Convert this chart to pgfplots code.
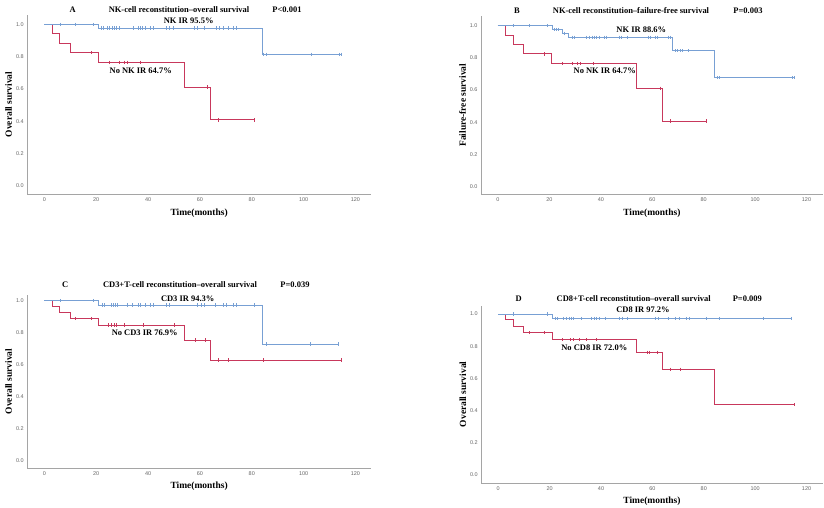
\documentclass[border=0pt]{standalone}
\usepackage{fontspec}
\setmainfont{Liberation Serif}
\newfontfamily\ticksans{Liberation Sans}
\usepackage{pgfplots}
\pgfplotsset{compat=1.18}
\definecolor{kmblue}{RGB}{120,160,212}
\definecolor{kmred}{RGB}{200,56,92}
\definecolor{axgray}{RGB}{165,165,165}

\pgfplotsset{km/.style={
  scale only axis,
  axis x line*=bottom, axis y line*=left,
  axis line style={axgray, line width=0.9bp, -},
  xtick={0,20,40,60,80,100,120},
  ytick={0,0.2,0.4,0.6,0.8,1},
  yticklabel style={/pgf/number format/fixed, /pgf/number format/fixed zerofill, /pgf/number format/precision=1},
  tick style={draw=none},
  tick label style={font=\ticksans\fontsize{5.5}{6.5}\selectfont, text=black!60},
  /pgf/number format/assume math mode=true,
  xlabel={Time(months)},
  label style={font=\bfseries\fontsize{9.5}{11}\selectfont},
  xlabel style={at={(axis description cs:0.5,-0.105)}, anchor=center},
  ylabel style={at={(axis description cs:-0.054,0.5)}, anchor=center},
  clip=false,
},
blueline/.style={kmblue, line width=0.8bp, const plot mark left, no marks},
redline/.style={kmred, line width=1.0bp, const plot mark left, no marks},
bluecens/.style={kmblue, only marks, mark=|, mark size=1.6bp, mark options={line width=0.6bp}},
redcens/.style={kmred, only marks, mark=|, mark size=1.6bp, mark options={line width=0.7bp}},
}
\tikzset{ttl/.style={font=\bfseries\fontsize{8.5}{10}\selectfont, anchor=center, inner sep=0pt},
ann/.style={font=\bfseries\fontsize{8.5}{10}\selectfont, anchor=center, inner sep=0pt}}

\begin{document}
\begin{tikzpicture}[x=1bp,y=1bp]
\fill[white] (0,0) rectangle (824,508);
\path[use as bounding box] (0,0) rectangle (824,508);

% ---------------- Panel A ----------------
\begin{axis}[km, at={(27.3bp,314bp)}, anchor=south west, width=343.7bp, height=179bp,
  xmin=-6.6, xmax=126, ymin=-0.05, ymax=1.058, ylabel={Overall survival}]
\addplot[redline] coordinates {(0,1) (3,0.941) (6,0.882) (10,0.824) (21,0.765) (54,0.612) (64,0.408) (81,0.408)};
\addplot[redcens] coordinates {(18,0.824) (25,0.765) (29,0.765) (31,0.765) (32,0.765) (37,0.765)
 (63,0.612) (67,0.408) (81,0.408)};
\addplot[blueline] coordinates {(0,1) (21,0.977) (84,0.815) (114.7,0.815)};
\addplot[bluecens] coordinates {(6,1) (12,1) (19,1)
 (21.9,0.977) (22.9,0.977) (24.2,0.977) (25.1,0.977) (26.0,0.977) (26.9,0.977) (27.8,0.977) (28.8,0.977)
 (34.4,0.977) (36.1,0.977) (37.0,0.977) (37.8,0.977) (39.0,0.977) (40.9,0.977) (42.1,0.977)
 (47.1,0.977) (48.1,0.977) (49.8,0.977) (57.9,0.977) (59.1,0.977) (61.5,0.977)
 (66.2,0.977) (67.3,0.977) (69.0,0.977) (70.9,0.977) (73.0,0.977) (73.9,0.977)
 (84.4,0.815) (85.5,0.815) (103,0.815) (113.6,0.815) (114.7,0.815)};
\end{axis}

% ---------------- Panel B ----------------
\begin{axis}[km, at={(481bp,313.7bp)}, anchor=south west, width=341.7bp, height=178.3bp,
  xmin=-6.6, xmax=126.3, ymin=-0.047, ymax=1.06, ylabel={Failure-free survival}]
\addplot[redline] coordinates {(0,1) (3,0.941) (6,0.882) (10,0.824) (21,0.765) (54,0.612) (64,0.408) (81,0.408)};
\addplot[redcens] coordinates {(18,0.824) (25,0.765) (29,0.765) (31,0.765) (32,0.765) (37,0.765)
 (63,0.612) (67,0.408) (81,0.408)};
\addplot[blueline] coordinates {(0,1) (21,0.977) (25,0.953) (27.3,0.928) (68,0.845) (84,0.676) (115.3,0.676)};
\addplot[bluecens] coordinates {(6,1) (12,1) (19,1)
 (21.8,0.977) (22.6,0.977) (23.3,0.977) (25.8,0.953)
 (28.8,0.928) (29.6,0.928) (34.4,0.928) (35.7,0.928) (36.6,0.928) (37.5,0.928) (38.3,0.928) (39.3,0.928)
 (41.4,0.928) (42.2,0.928) (47.0,0.928) (48.0,0.928) (50.2,0.928) (58.4,0.928) (59.3,0.928)
 (61.0,0.928) (61.9,0.928) (66.1,0.928) (67.0,0.928)
 (69.0,0.845) (69.9,0.845) (70.9,0.845) (71.8,0.845) (74.1,0.845)
 (85.2,0.676) (86.0,0.676) (114.4,0.676) (115.3,0.676)};
\end{axis}

% ---------------- Panel C ----------------
\begin{axis}[km, at={(27.3bp,39.7bp)}, anchor=south west, width=343.7bp, height=173.6bp,
  xmin=-6.6, xmax=126, ymin=-0.0475, ymax=1.0375, ylabel={Overall survival}]
\addplot[redline] coordinates {(0,1) (3,0.963) (6,0.926) (10,0.889) (21,0.848) (54,0.754) (64,0.629) (114.4,0.629)};
\addplot[redcens] coordinates {(12.1,0.889) (18,0.889) (24.5,0.848) (25.8,0.848) (26.9,0.848) (27.9,0.848)
 (30.9,0.848) (38,0.848) (50.1,0.848) (58.4,0.754) (62,0.754)
 (67,0.629) (71,0.629) (84.6,0.629) (114.4,0.629)};
\addplot[blueline] coordinates {(0,1) (21,0.973) (84,0.729) (113.3,0.729)};
\addplot[bluecens] coordinates {(6,1) (19,1)
 (22.2,0.973) (23.2,0.973) (25.8,0.973) (26.7,0.973) (27.4,0.973) (28.3,0.973) (31.8,0.973) (34.1,0.973)
 (36.1,0.973) (37.0,0.973) (39.1,0.973) (40.9,0.973) (42.1,0.973) (46.9,0.973) (48.1,0.973)
 (58.8,0.973) (60.5,0.973) (61.7,0.973) (65.8,0.973) (69.0,0.973) (70.0,0.973) (73.0,0.973)
 (74.0,0.973) (81.0,0.973)
 (85.5,0.729) (102.6,0.729) (113.3,0.729)};
\end{axis}

% ---------------- Panel D ----------------
\begin{axis}[km, at={(481.3bp,25bp)}, anchor=south west, width=341.4bp, height=177.3bp,
  xmin=-6.6, xmax=126.3, ymin=-0.052, ymax=1.052, ylabel={Overall survival}]
\addplot[redline] coordinates {(0,1) (3,0.963) (6,0.923) (10,0.884) (21,0.84) (54,0.762) (64,0.656) (84,0.436) (115.2,0.436)};
\addplot[redcens] coordinates {(12,0.884) (18,0.884) (25.1,0.84) (28.1,0.84) (29.4,0.84) (31.5,0.84) (34.1,0.84) (38.2,0.84)
 (58,0.762) (59,0.762) (62,0.762) (67,0.656) (71,0.656) (115.2,0.436)};
\addplot[blueline] coordinates {(0,1) (21,0.972) (114,0.972)};
\addplot[bluecens] coordinates {(6,1) (19,1)
 (22.1,0.972) (23.1,0.972) (25.2,0.972) (26.5,0.972) (27.5,0.972) (28.5,0.972) (29.4,0.972) (32.3,0.972)
 (36.2,0.972) (37.2,0.972) (38.2,0.972) (39.3,0.972) (41.5,0.972) (47.0,0.972) (48.2,0.972) (50.2,0.972)
 (61.2,0.972) (62.3,0.972) (66.1,0.972) (69.0,0.972) (70.3,0.972) (73.2,0.972) (74.3,0.972)
 (81.1,0.972) (86.1,0.972) (103.1,0.972) (114.0,0.972)};
\end{axis}

% ---------------- Titles and annotations ----------------
\node[ttl] at (72.7,498) {A};
\node[ttl] at (179,498) {NK-cell reconstitution--overall survival};
\node[ttl] at (287,498) {P<0.001};
\node[ann] at (188.7,487) {NK IR 95.5\%};
\node[ann] at (140.7,437.3) {No NK IR 64.7\%};

\node[ttl] at (517,497.3) {B};
\node[ttl] at (631,497.3) {NK-cell reconstitution--failure-free survival};
\node[ttl] at (748,497.3) {P=0.003};
\node[ann] at (641.3,478) {NK IR 88.6\%};
\node[ann] at (604.7,437.3) {No NK IR 64.7\%};

\node[ttl] at (65.3,223) {C};
\node[ttl] at (180,223) {CD3+T-cell reconstitution--overall survival};
\node[ttl] at (295,223) {P=0.039};
\node[ann] at (187.7,209.7) {CD3 IR 94.3\%};
\node[ann] at (144.7,175) {No CD3 IR 76.9\%};

\node[ttl] at (518.7,209) {D};
\node[ttl] at (633.7,209) {CD8+T-cell reconstitution--overall survival};
\node[ttl] at (747.3,209) {P=0.009};
\node[ann] at (643,198) {CD8 IR 97.2\%};
\node[ann] at (594.3,160.3) {No CD8 IR 72.0\%};
\end{tikzpicture}
\end{document}
